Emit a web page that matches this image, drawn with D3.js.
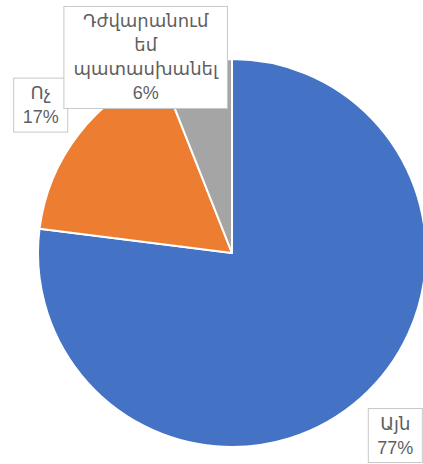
<!DOCTYPE html>
<html>
<head>
<meta charset="utf-8">
<script src="https://cdn.jsdelivr.net/npm/d3@7"></script>
<style>
  html, body { margin: 0; padding: 0; background: #fff; }
  svg { display: block; }
</style>
</head>
<body>
<svg id="chart" width="423" height="464"></svg>
<script>
// Survey answers and their shares (%)
const categories = ["Այն", "Ոչ", "Դժվարանում եմ պատասխանել"];
const values = [77, 17, 6];
const labelLines = [["Այն"], ["Ոչ"], ["Դժվարանում", "եմ", "պատասխանել"]];
const colors = ["#4472C4", "#ED7D31", "#A5A5A5"];

const svg = d3.select("#chart");
const cx = 232, cy = 253, radius = 194;

const pie = d3.pie().sort(null).value(d => d.value);
const arcs = pie(categories.map((c, i) => ({ name: c, value: values[i], idx: i })));
const arc = d3.arc().innerRadius(0).outerRadius(radius);

const g = svg.append("g").attr("transform", `translate(${cx},${cy})`);

g.selectAll("path.slice")
  .data(arcs)
  .join("path")
  .attr("class", "slice")
  .attr("d", arc)
  .attr("fill", d => colors[d.data.idx])
  .attr("stroke", "#fff")
  .attr("stroke-width", 2)
  .attr("stroke-linejoin", "round");

// Data label callouts: boxes anchored at the outer edge of each slice's mid-angle
const labelShift = [
  { dx: 8, dy: 10, anchor: "tl" },     // Այն: box starts just below-right of anchor
  { dx: -11, dy: -2, anchor: "br" },   // Ոչ: box sits above-left of anchor
  { dx: -50, dy: 46, anchor: "bc" }    // Դժվարանում...: centered, above anchor
];
const lineH = 24;
const fontSize = 18;
const padX = 9, padY = 6;

const labels = svg.append("g")
  .attr("font-family", "'Liberation Sans', 'DejaVu Sans', sans-serif")
  .attr("font-size", fontSize)
  .attr("fill", "#5f5f5f");

arcs.forEach((d, i) => {
  const mid = (d.startAngle + d.endAngle) / 2;
  const ax = cx + Math.sin(mid) * radius;
  const ay = cy - Math.cos(mid) * radius;
  const lines = labelLines[d.data.idx].concat([d3.format("d")(d.data.value) + "%"]);

  const grp = labels.append("g");
  const txt = grp.append("text").attr("text-anchor", "middle");
  lines.forEach((t, k) => {
    txt.append("tspan").attr("x", 0).attr("y", k * lineH).text(t);
  });
  const bb = txt.node().getBBox();
  const w = bb.width + padX * 2;
  const h = lines.length * lineH + padY;
  const s = labelShift[i];
  let bx, by;
  if (s.anchor === "tl") { bx = ax + s.dx; by = ay + s.dy; }
  else if (s.anchor === "br") { bx = ax + s.dx - w; by = ay + s.dy - h; }
  else { bx = ax + s.dx - w / 2; by = ay + s.dy - h; }

  grp.insert("rect", "text")
    .attr("x", bx).attr("y", by)
    .attr("width", w).attr("height", h)
    .attr("fill", "#fff")
    .attr("stroke", "#C8C8C8")
    .attr("stroke-width", 1);
  txt.attr("transform", `translate(${bx + w / 2},${by + padY / 2 + fontSize})`);
});
</script>
</body>
</html>
